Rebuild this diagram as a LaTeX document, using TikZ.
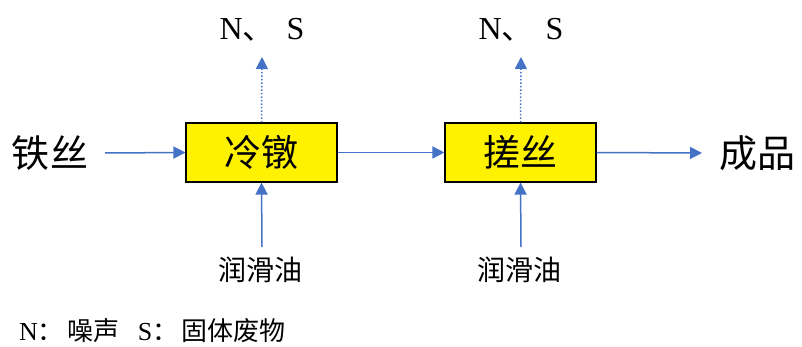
\documentclass[tikz,border=0pt]{standalone}
\usepackage{fontspec}
\setmainfont{Liberation Serif}
\newfontfamily\cjk{Noto Sans CJK SC}
\usetikzlibrary{arrows.meta}
\definecolor{arrowblue}{HTML}{4472C4}
\begin{document}
\begin{tikzpicture}[x=1pt,y=-1pt,
  proc/.style={draw=black,line width=1.1pt,fill=yellow,minimum width=151pt,minimum height=59pt,inner sep=0pt,font=\cjk\fontsize{37}{40}\selectfont},
  flow/.style={draw=arrowblue,line width=1.5pt,-{Triangle[length=12pt,width=12pt]}},
  emit/.style={flow,dotted},
  big/.style={font=\cjk\fontsize{38}{40}\selectfont},
  ns/.style={font=\fontsize{32}{34}\selectfont},
  small/.style={font=\cjk\fontsize{28}{30}\selectfont}]
\useasboundingbox (0,0) rectangle (802,347);
\node[proc] (p1) at (261.5,152.5) {冷镦};
\node[proc] (p2) at (520.5,152.5) {搓丝};
\node[big] (in) at (50,153) {铁丝};
\node[big] (out) at (757,153) {成品};
\node[ns] (e1) at (262,30) {N{\cjk 、}\hspace{12pt}S};
\node[ns] (e2) at (521,30) {N{\cjk 、}\hspace{12pt}S};
\node[small] (l1) at (260,270) {润滑油};
\node[small] (l2) at (519,270) {润滑油};
\coordinate (l1t) at (262,247);
\coordinate (l2t) at (521,247);
\coordinate (e1b) at (262,57);
\coordinate (e2b) at (521,57);
\coordinate (inr) at (105,153);
\coordinate (outl) at (702,153);
\draw[flow] (inr) -- (p1.west);
\draw[flow] (p1.east) -- (p2.west);
\draw[flow] (p2.east) -- (outl);
\draw[emit] (p1.north) -- (e1b);
\draw[emit] (p2.north) -- (e2b);
\draw[flow] (l1t) -- (p1.south);
\draw[flow] (l2t) -- (p2.south);
\node[anchor=west,inner sep=1pt,font=\fontsize{26}{27}\selectfont] (leg) at (18,331) {N{\cjk ：}\hspace{4pt}{\cjk 噪声}\hspace{18pt}S{\cjk ：}\hspace{3pt}{\cjk 固体废物}};
\end{tikzpicture}
\end{document}
